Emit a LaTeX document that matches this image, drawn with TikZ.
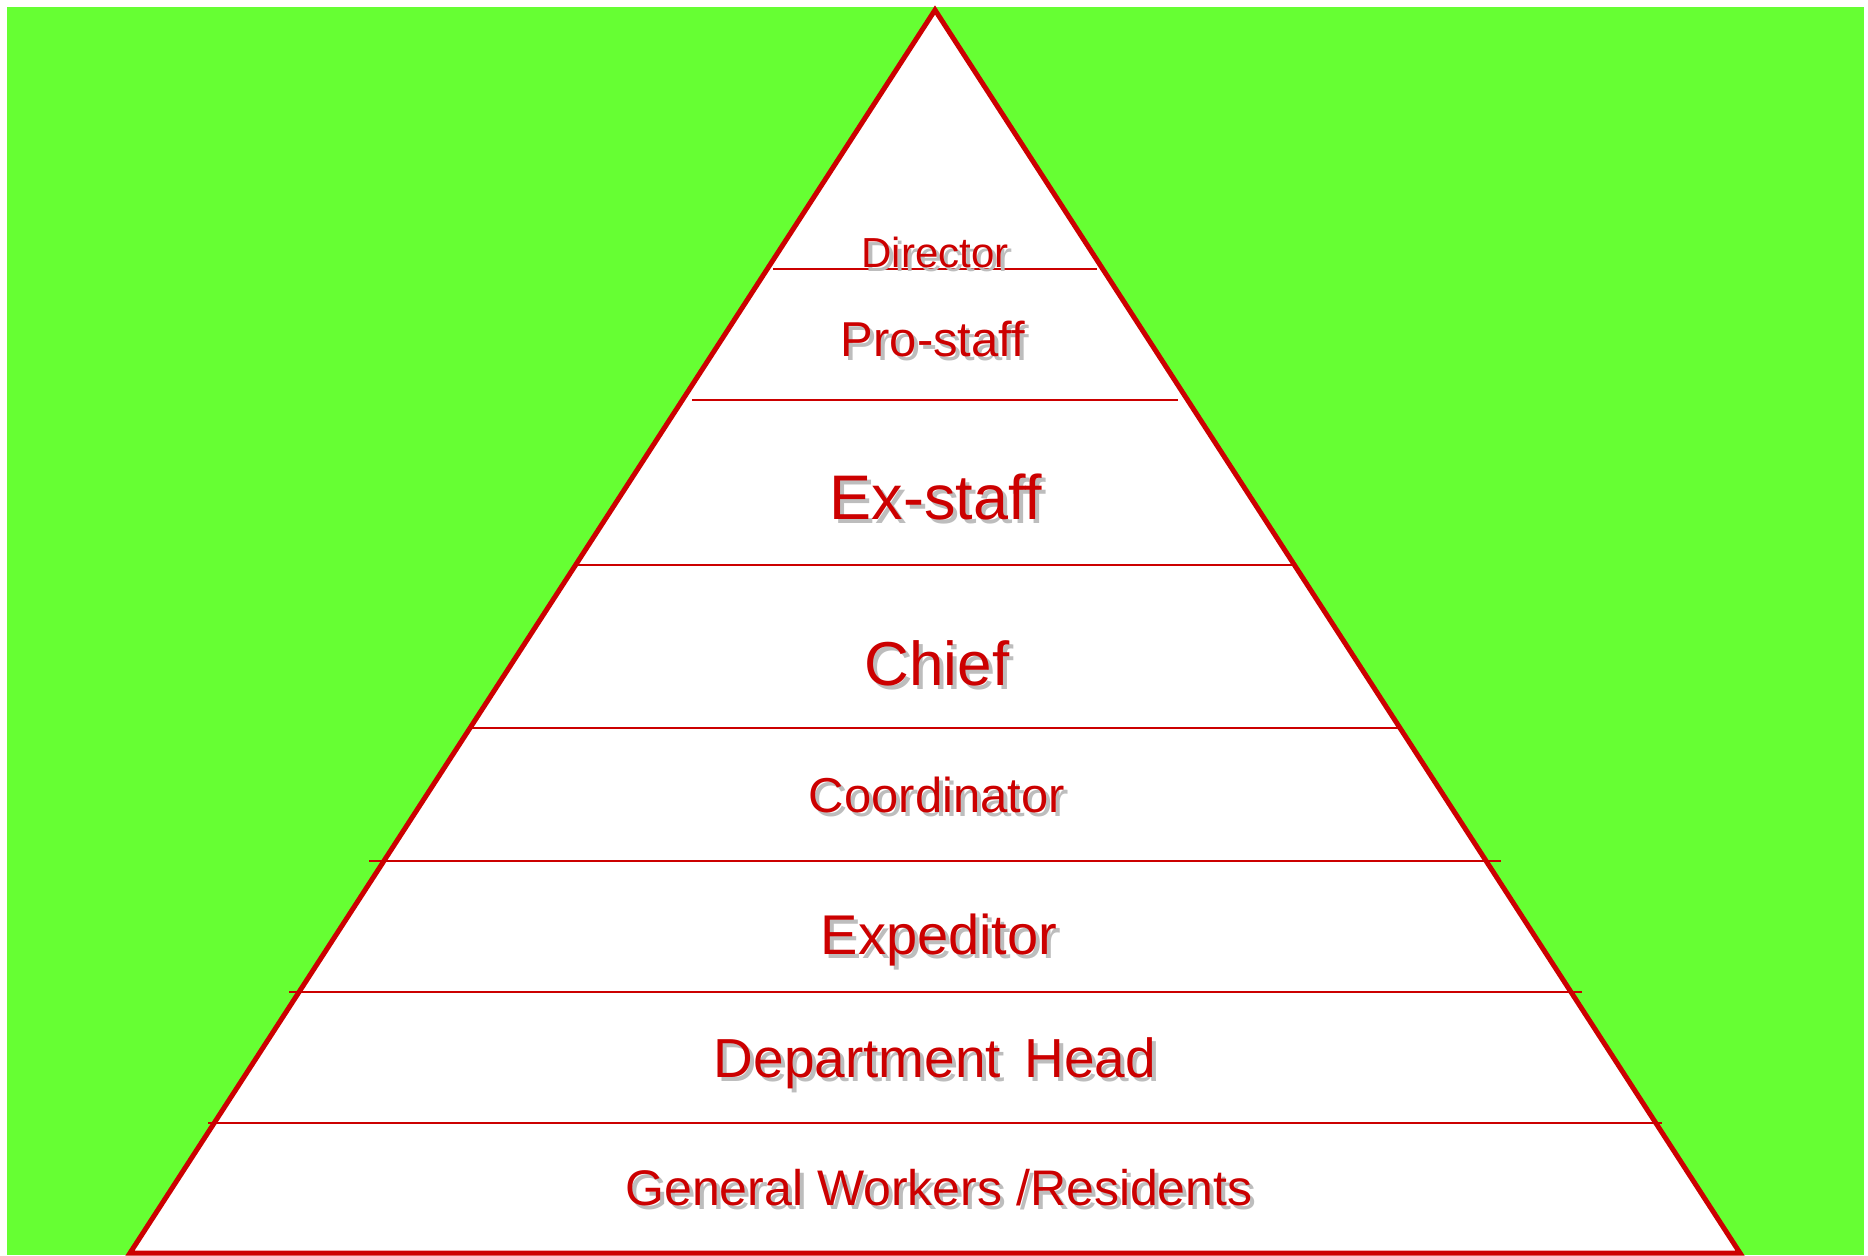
\documentclass[tikz,border=0pt]{standalone}
\usepackage{fontspec}
\setmainfont{Liberation Sans}

\definecolor{tierred}{HTML}{CC0000}
\definecolor{fieldgreen}{HTML}{66FF33}
\definecolor{shadowgray}{HTML}{BDBDBD}

\begin{document}
\begin{tikzpicture}[x=0.5pt,y=-0.5pt]

      \useasboundingbox (0,0) rectangle (1868,1255);
      \fill[white] (0,0) rectangle (1868,1255);
      \fill[fieldgreen] (7,7) rectangle (1864,1255);

      % the pyramid
      \coordinate (apex)  at (935,10);
      \coordinate (left)  at (130,1253);
      \coordinate (right) at (1740,1253);
      \filldraw[fill=white,draw=tierred,line width=2.5pt,line join=miter]
        (apex) -- (left) -- (right) -- cycle;

      \begin{scope}[draw=tierred,line width=1pt]
        \draw (773,269)  -- (1097,269);
        \draw (692,400)  -- (1178,400);
        \draw (575,565)  -- (1295,565);
        \draw (469,728)  -- (1399,728);
        \draw (369,861)  -- (1501,861);
        \draw (289,992)  -- (1582,992);
        \draw (208,1123) -- (1662,1123);
      \end{scope}

      \begin{scope}[every node/.style={anchor=base,text=shadowgray,xshift=2pt,yshift=-2pt}]
        \node (director-s) at (935,267)  [font=\fontsize{21pt}{21pt}\selectfont] {Director};
        \node (prostaff-s) at (933,356)  [font=\fontsize{24.5pt}{24.5pt}\selectfont] {Pro-staff};
        \node (exstaff-s)  at (936,519)  [font=\fontsize{31.5pt}{31.5pt}\selectfont] {Ex-staff};
        \node (chief-s)    at (937,685)  [font=\fontsize{31pt}{31pt}\selectfont] {Chief};
        \node (coord-s)    at (937,812)  [font=\fontsize{24.5pt}{24.5pt}\selectfont] {Coordinator};
        \node (exped-s)    at (939,954)  [font=\fontsize{28pt}{28pt}\selectfont] {Expeditor};
        \node (dept-s)     at (935,1077) [font=\fontsize{27.5pt}{27.5pt}\selectfont] {Department\hspace{0.15em} Head};
        \node (general-s)  at (939,1205) [font=\fontsize{25pt}{25pt}\selectfont] {General Workers /Residents};
      \end{scope}

      \begin{scope}[every node/.style={anchor=base,text=tierred}]
        \node (director) at (935,267)  [font=\fontsize{21pt}{21pt}\selectfont] {Director};
        \node (prostaff) at (933,356)  [font=\fontsize{24.5pt}{24.5pt}\selectfont] {Pro-staff};
        \node (exstaff)  at (936,519)  [font=\fontsize{31.5pt}{31.5pt}\selectfont] {Ex-staff};
        \node (chief)    at (937,685)  [font=\fontsize{31pt}{31pt}\selectfont] {Chief};
        \node (coord)    at (937,812)  [font=\fontsize{24.5pt}{24.5pt}\selectfont] {Coordinator};
        \node (exped)    at (939,954)  [font=\fontsize{28pt}{28pt}\selectfont] {Expeditor};
        \node (dept)     at (935,1077) [font=\fontsize{27.5pt}{27.5pt}\selectfont] {Department\hspace{0.15em} Head};
        \node (general)  at (939,1205) [font=\fontsize{25pt}{25pt}\selectfont] {General Workers /Residents};
      \end{scope}

    \end{tikzpicture}
\end{document}
